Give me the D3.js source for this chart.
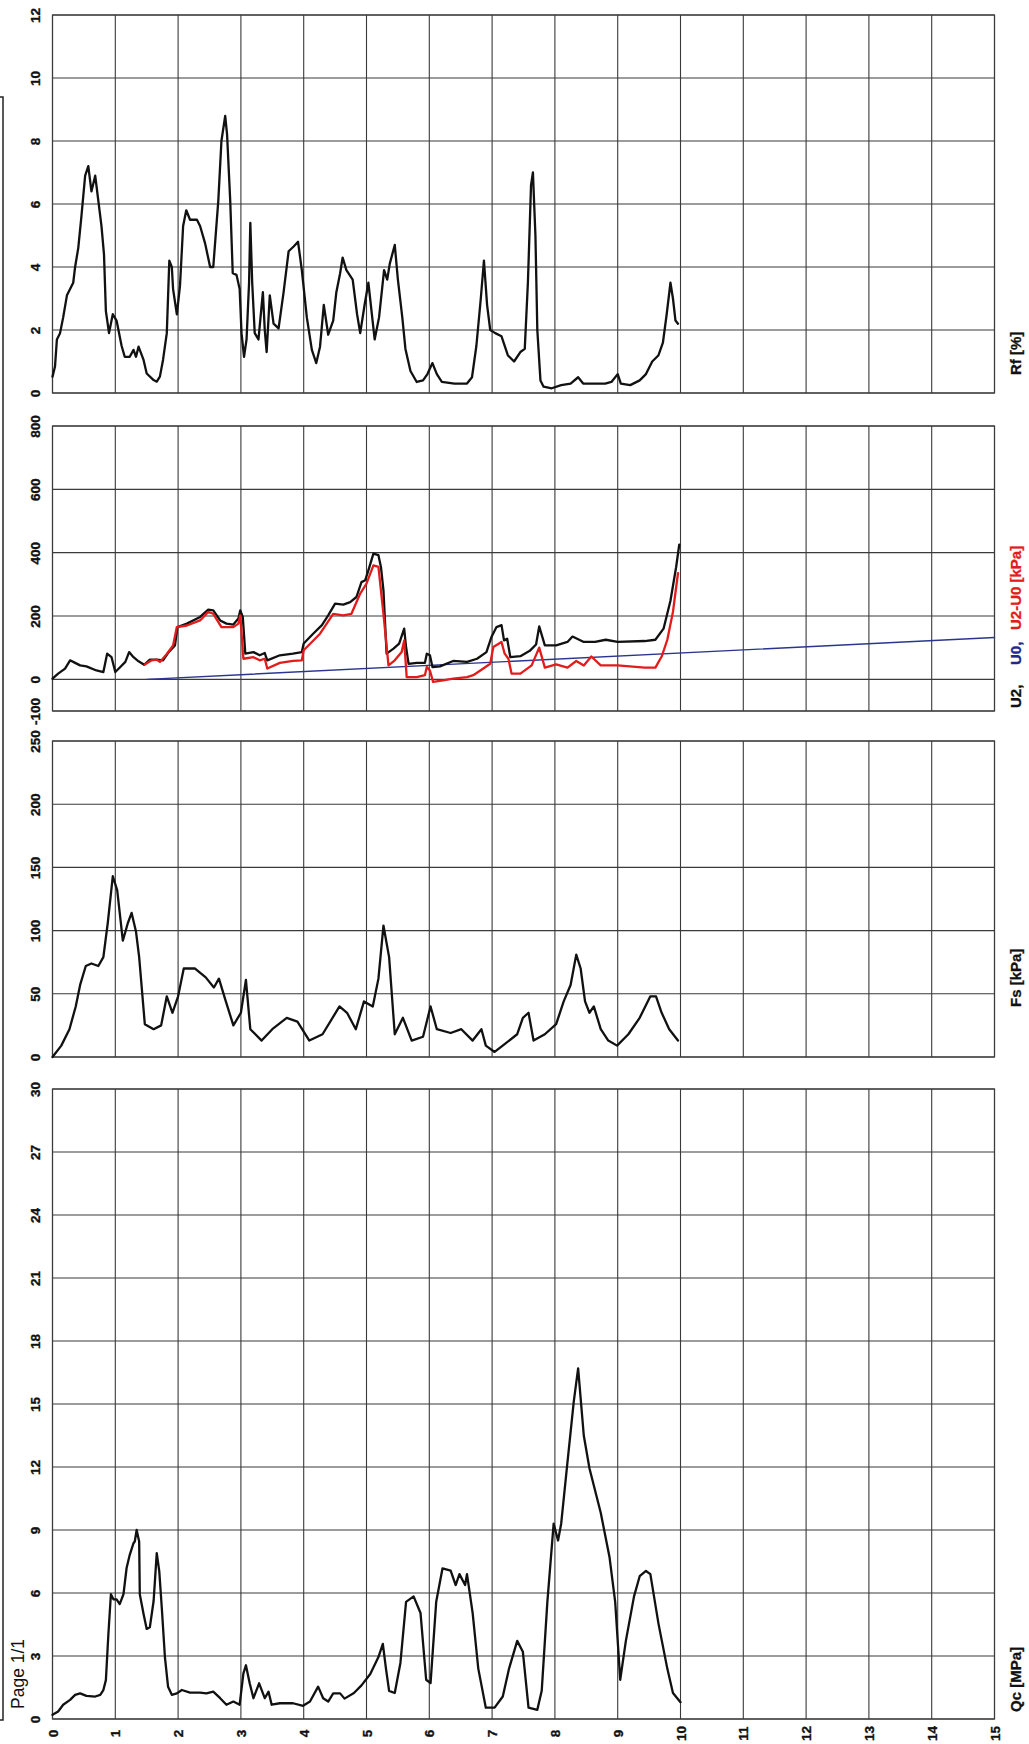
<!DOCTYPE html>
<html><head><meta charset="utf-8">
<script src="https://cdn.jsdelivr.net/npm/d3@7"></script>
<style>html,body{margin:0;padding:0;background:#fff}</style>
</head><body>
<svg id="c" width="1029" height="1744"></svg>
<script>
// ---------- data ----------
const depthTicks = [0,1,2,3,4,5,6,7,8,9,10,11,12,13,14,15];
const rfTicks = [0,2,4,6,8,10,12];
const u2Ticks = [-100,0,200,400,600,800];
const fsTicks = [0,50,100,150,200,250];
const qcTicks = [0,3,6,9,12,15,18,21,24,27,30];

const rfDepth = [0,0.04,0.07,0.12,0.17,0.23,0.28,0.33,0.36,0.41,0.46,0.52,0.57,0.62,0.68,0.73,0.78,0.82,0.85,0.90,0.96,1.02,1.10,1.15,1.23,1.29,1.33,1.37,1.45,1.50,1.61,1.66,1.71,1.76,1.82,1.86,1.90,1.92,1.98,2.03,2.08,2.13,2.19,2.30,2.35,2.43,2.51,2.56,2.64,2.69,2.75,2.78,2.83,2.87,2.93,2.98,3.01,3.05,3.09,3.13,3.15,3.18,3.22,3.28,3.35,3.38,3.41,3.46,3.52,3.60,3.68,3.76,3.84,3.91,3.97,4.05,4.13,4.20,4.26,4.32,4.39,4.47,4.52,4.58,4.62,4.68,4.78,4.85,4.90,4.97,5.03,5.08,5.13,5.20,5.28,5.33,5.37,5.45,5.50,5.57,5.62,5.70,5.80,5.90,5.97,6.05,6.12,6.20,6.40,6.60,6.68,6.75,6.82,6.87,6.92,6.97,7.05,7.15,7.25,7.35,7.45,7.52,7.57,7.62,7.65,7.69,7.72,7.77,7.82,7.95,8.10,8.25,8.37,8.45,8.60,8.80,8.90,9.00,9.05,9.20,9.35,9.45,9.55,9.65,9.72,9.78,9.84,9.88,9.92,9.96];
const rfValue = [0.52,0.84,1.7,1.9,2.4,3.1,3.3,3.5,4.0,4.6,5.6,6.9,7.2,6.4,6.9,6.1,5.3,4.4,2.6,1.9,2.5,2.3,1.5,1.15,1.15,1.37,1.15,1.47,1.05,0.62,0.41,0.36,0.52,1.05,1.9,4.2,4.0,3.3,2.5,3.4,5.3,5.8,5.5,5.5,5.3,4.75,4.0,4.0,6.1,8.0,8.8,8.2,6.1,3.8,3.75,3.3,1.9,1.15,1.7,3.5,5.4,3.5,1.9,1.7,3.2,2.0,1.3,3.1,2.2,2.05,3.2,4.5,4.65,4.8,3.9,2.4,1.37,0.95,1.47,2.8,1.85,2.3,3.2,3.8,4.3,3.9,3.6,2.5,1.9,2.8,3.5,2.6,1.7,2.4,3.9,3.6,4.1,4.7,3.6,2.4,1.4,0.7,0.35,0.4,0.6,0.95,0.6,0.35,0.3,0.3,0.5,1.5,3.0,4.2,2.8,2.0,1.9,1.8,1.2,1.0,1.3,1.4,3.5,6.6,7.0,5.0,2.0,0.4,0.2,0.15,0.25,0.3,0.5,0.3,0.3,0.3,0.35,0.6,0.3,0.25,0.4,0.6,1.0,1.2,1.6,2.5,3.5,3.0,2.3,2.2];

const u2Depth = [0,0.09,0.2,0.28,0.36,0.44,0.54,0.7,0.81,0.87,0.94,1.0,1.08,1.16,1.22,1.29,1.37,1.46,1.55,1.66,1.76,1.85,1.95,1.99,2.14,2.35,2.48,2.56,2.67,2.77,2.88,2.96,2.99,3.03,3.07,3.2,3.3,3.38,3.42,3.62,3.83,3.97,4.0,4.15,4.29,4.39,4.5,4.63,4.74,4.84,4.92,4.98,5.03,5.11,5.19,5.23,5.27,5.32,5.43,5.52,5.6,5.63,5.67,5.8,5.93,5.96,6.01,6.05,6.17,6.38,6.6,6.76,6.91,6.99,7.07,7.15,7.19,7.24,7.29,7.45,7.6,7.7,7.75,7.84,8.02,8.2,8.28,8.46,8.64,8.81,9.0,9.43,9.6,9.73,9.84,9.93,9.98];
const u2Value = [2,18,34,60,52,44,41,28,23,81,70,23,39,55,86,70,57,46,62,62,60,86,107,165,176,197,220,218,186,176,173,192,218,197,81,86,76,83,60,76,81,86,113,144,171,202,239,236,244,260,307,313,344,397,392,355,281,81,97,113,160,102,49,52,52,81,76,39,41,58,55,65,86,134,165,171,123,128,70,73,90,110,167,107,107,118,135,118,118,125,118,121,125,160,248,354,425];

const u2u0Depth = [1.47,1.58,1.66,1.71,1.82,1.92,1.98,2.14,2.35,2.48,2.56,2.69,2.88,2.96,2.99,3.04,3.2,3.3,3.38,3.42,3.62,3.83,3.97,4.0,4.26,4.47,4.63,4.76,4.9,5.0,5.11,5.19,5.27,5.35,5.45,5.56,5.6,5.64,5.8,5.93,5.96,6.01,6.06,6.22,6.38,6.6,6.7,6.86,6.97,7.02,7.15,7.2,7.26,7.31,7.45,7.63,7.75,7.84,8.02,8.2,8.34,8.46,8.58,8.73,9.0,9.43,9.6,9.7,9.79,9.88,9.96];
const u2u0Value = [47,60,62,55,80,107,165,170,186,213,207,165,165,176,202,65,70,60,65,34,52,58,60,92,144,207,202,207,271,302,360,355,207,44,60,86,123,7,7,13,39,28,-8,-3,2,7,13,34,49,102,118,81,65,18,18,44,100,37,47,37,58,44,72,44,44,37,37,72,125,213,335];

const u0Depth = [1.5,15];
const u0Value = [0,132];

const fsDepth = [0,0.14,0.27,0.37,0.44,0.53,0.62,0.73,0.81,0.88,0.96,1.03,1.12,1.2,1.26,1.33,1.38,1.47,1.61,1.73,1.82,1.91,2.0,2.09,2.27,2.44,2.57,2.65,2.76,2.88,3.0,3.08,3.15,3.33,3.5,3.73,3.9,4.09,4.3,4.57,4.69,4.83,4.96,5.1,5.19,5.27,5.36,5.45,5.58,5.72,5.9,6.02,6.12,6.34,6.51,6.69,6.83,6.9,7.04,7.22,7.4,7.49,7.58,7.66,7.84,8.02,8.14,8.25,8.34,8.41,8.48,8.55,8.62,8.73,8.85,8.99,9.17,9.35,9.52,9.61,9.7,9.82,9.96];
const fsValue = [0,9,22,40,57,72,74,72,79,106,143,132,92,106,114,99,79,26,22,25,48,35,48,70,70,63,55,62,44,25,35,61,22,13,22,31,28,13,18,40,35,22,44,40,62,104,79,18,31,13,16,40,22,19,22,13,22,9,4,11,18,31,35,13,18,26,44,57,81,70,44,35,40,22,13,9,18,31,48,48,35,22,13];

const qcDepth = [0,0.09,0.17,0.28,0.36,0.44,0.54,0.68,0.76,0.81,0.85,0.89,0.93,0.97,1.02,1.07,1.13,1.18,1.23,1.29,1.31,1.34,1.38,1.39,1.45,1.5,1.55,1.61,1.66,1.7,1.74,1.79,1.84,1.9,1.98,2.06,2.19,2.35,2.45,2.56,2.67,2.77,2.88,2.98,3.04,3.08,3.14,3.2,3.29,3.36,3.38,3.44,3.49,3.62,3.83,3.99,4.1,4.23,4.31,4.39,4.47,4.58,4.65,4.8,4.92,5.06,5.19,5.26,5.31,5.36,5.45,5.54,5.63,5.75,5.86,5.95,6.02,6.11,6.21,6.34,6.42,6.48,6.57,6.6,6.69,6.78,6.9,7.04,7.17,7.27,7.4,7.49,7.58,7.72,7.79,7.88,7.98,8.05,8.1,8.19,8.3,8.37,8.46,8.55,8.73,8.87,8.96,9.04,9.13,9.26,9.35,9.45,9.52,9.65,9.79,9.88,10.0];
const qcValue = [0.2,0.36,0.68,0.91,1.15,1.22,1.1,1.07,1.15,1.38,1.85,4.05,5.94,5.7,5.7,5.47,5.94,7.19,7.82,8.37,8.45,9.0,8.45,5.94,5.0,4.29,4.37,5.62,7.9,7.04,5.31,2.95,1.54,1.15,1.22,1.38,1.26,1.26,1.22,1.3,0.99,0.68,0.83,0.68,2.17,2.56,1.7,0.99,1.7,1.15,0.99,1.3,0.68,0.75,0.75,0.63,0.83,1.54,0.99,0.83,1.22,1.22,0.97,1.24,1.6,2.14,2.95,3.58,2.4,1.34,1.24,2.67,5.58,5.84,5.05,1.87,1.71,5.58,7.17,7.07,6.38,6.9,6.38,6.9,5.05,2.4,0.54,0.54,1.07,2.4,3.72,3.2,0.54,0.44,1.34,5.58,9.3,8.5,9.3,11.94,15.1,16.7,13.5,11.94,9.82,7.7,5.58,1.87,3.72,5.84,6.8,7.05,6.9,4.53,2.4,1.24,0.8];

// ---------- layout ----------
const W = 1029, H = 1744;
const svg = d3.select("#c");
svg.append("rect").attr("width", W).attr("height", H).attr("fill", "#fff");

const x = d3.scaleLinear().domain([0, 15]).range([52.5, 994.5]);

const panels = [
  {domain: [0, 12], ticks: rfTicks, top: 15, bottom: 393},
  {domain: [-100, 800], ticks: u2Ticks, top: 426, bottom: 711},
  {domain: [0, 250], ticks: fsTicks, top: 741, bottom: 1057},
  {domain: [0, 30], ticks: qcTicks, top: 1089, bottom: 1719}
];
panels.forEach(p => p.y = d3.scaleLinear().domain(p.domain).range([p.bottom, p.top]));

const gridColor = "#3a3a3a";
const font = "'Liberation Sans', Arial, Helvetica, sans-serif";
const fmt = d => String(d);

function styleTick(sel, tr) {
  sel.attr("x", null).attr("y", null).attr("dy", null)
    .attr("transform", tr)
    .attr("text-anchor", "middle").attr("dominant-baseline", "central")
    .attr("font-family", font).attr("font-weight", "bold").attr("font-size", 13.5)
    .attr("fill", "#111").attr("stroke", "#111").attr("stroke-width", 0.35);
}

panels.forEach(p => {
  const g = svg.append("g");
  g.selectAll("line.v").data(depthTicks).join("line")
    .attr("x1", d => x(d)).attr("x2", d => x(d))
    .attr("y1", p.top).attr("y2", p.bottom)
    .attr("stroke", gridColor).attr("stroke-width", 1.1);
  g.selectAll("line.h").data(p.ticks).join("line")
    .attr("x1", x(0)).attr("x2", x(15))
    .attr("y1", d => p.y(d)).attr("y2", d => p.y(d))
    .attr("stroke", gridColor).attr("stroke-width", 1.1);
  g.append("rect").attr("x", x(0)).attr("y", p.top)
    .attr("width", x(15) - x(0)).attr("height", p.bottom - p.top)
    .attr("fill", "none").attr("stroke", gridColor).attr("stroke-width", 1.2);
  const ax = svg.append("g").attr("transform", `translate(${x(0)},0)`)
    .call(d3.axisLeft(p.y).tickValues(p.ticks).tickSize(0).tickFormat(fmt));
  ax.select(".domain").remove();
  styleTick(ax.selectAll("text"), "translate(-17.5,0) rotate(-90)");
});

const qcP = panels[3];
const dax = svg.append("g").attr("transform", `translate(0,${qcP.bottom})`)
  .call(d3.axisBottom(x).tickValues(depthTicks).tickSize(0).tickFormat(fmt));
dax.select(".domain").remove();
styleTick(dax.selectAll("text"), "translate(0,14.5) rotate(-90)");

function drawLine(depths, values, yScale, color, width) {
  const pts = depths.map((d, i) => [d, values[i]]);
  svg.append("path").datum(pts)
    .attr("d", d3.line().x(d => x(d[0])).y(d => yScale(d[1])))
    .attr("fill", "none").attr("stroke", color).attr("stroke-width", width)
    .attr("stroke-linejoin", "round").attr("stroke-linecap", "round");
}

drawLine(rfDepth, rfValue, panels[0].y, "#111", 2.3);
drawLine(u0Depth, u0Value, panels[1].y, "#2a3590", 1.4);
drawLine(u2Depth, u2Value, panels[1].y, "#111", 2.3);
drawLine(u2u0Depth, u2u0Value, panels[1].y, "#e31b1b", 2.3);
drawLine(fsDepth, fsValue, panels[2].y, "#111", 2.3);
drawLine(qcDepth, qcValue, panels[3].y, "#111", 2.3);

function title(txt, yStart, color) {
  svg.append("text").text(txt)
    .attr("transform", `translate(1015,${yStart}) rotate(-90)`)
    .attr("text-anchor", "start").attr("dominant-baseline", "central")
    .attr("font-family", font).attr("font-weight", "bold").attr("font-size", 15)
    .attr("fill", color).attr("stroke", color).attr("stroke-width", 0.3);
}
title("Rf [%]", 375, "#111");
title("U2,", 708, "#111");
title("U0,", 665, "#1f2a8a");
title("U2-U0 [kPa]", 630, "#e31b1b");
title("Fs [kPa]", 1007, "#111");
title("Qc [MPa]", 1712, "#111");

svg.append("rect").attr("x", -20).attr("y", 97).attr("width", 23).attr("height", 1623)
  .attr("fill", "none").attr("stroke", "#222").attr("stroke-width", 1.5);
svg.append("text").text("Page 1/1")
  .attr("transform", "translate(18,1709) rotate(-90)")
  .attr("text-anchor", "start").attr("dominant-baseline", "central")
  .attr("font-family", font).attr("font-size", 17.5).attr("fill", "#111");
</script>
</body></html>
